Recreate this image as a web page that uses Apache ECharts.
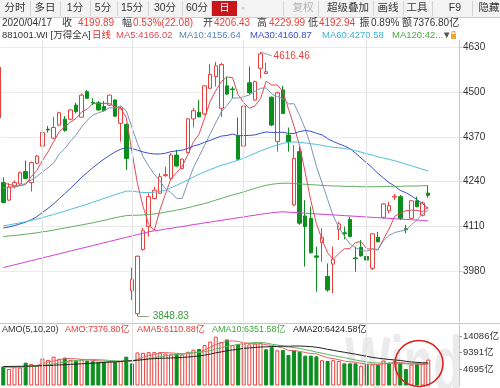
<!DOCTYPE html>
<html><head><meta charset="utf-8">
<script src="https://cdn.jsdelivr.net/npm/echarts@6/dist/echarts.min.js"></script>
<style>html,body{margin:0;padding:0;background:#fff}#c{width:500px;height:388px}</style>
</head><body><div id="c"></div>
<script>
const dates = ['2019-12-23','2019-12-24','2019-12-25','2019-12-26','2019-12-27','2019-12-30','2019-12-31',
'2020-01-02','2020-01-03','2020-01-06','2020-01-07','2020-01-08','2020-01-09','2020-01-10','2020-01-13','2020-01-14','2020-01-15','2020-01-16','2020-01-17','2020-01-20','2020-01-21','2020-01-22','2020-01-23',
'2020-02-03','2020-02-04','2020-02-05','2020-02-06','2020-02-07','2020-02-10','2020-02-11','2020-02-12','2020-02-13','2020-02-14','2020-02-17','2020-02-18','2020-02-19','2020-02-20','2020-02-21','2020-02-24','2020-02-25','2020-02-26','2020-02-27','2020-02-28',
'2020-03-02','2020-03-03','2020-03-04','2020-03-05','2020-03-06','2020-03-09','2020-03-10','2020-03-11','2020-03-12','2020-03-13','2020-03-16','2020-03-17','2020-03-18','2020-03-19','2020-03-20','2020-03-23','2020-03-24','2020-03-25','2020-03-26','2020-03-27','2020-03-30','2020-03-31',
'2020-04-01','2020-04-02','2020-04-03','2020-04-07','2020-04-08','2020-04-09','2020-04-10','2020-04-13','2020-04-14','2020-04-15','2020-04-16','2020-04-17'];
const padCats = ['+1','+2','+3','+4','+5'];
const monthStarts = ['2020-01-02','2020-02-03','2020-03-02','2020-04-01'];

const opens = [4237,4186,4225,4233,4269,4237,4293,4343,4392,4366,
 4404,4421,4421,4462,4427,4501,4470,4469,4458,4462,
 4477,4409,4406,3923,3856,4043,4109,4191,4206,4257,
 4249,4317,4278,4324,4422,4441,4436,4511,4545,4453,
 4518,4509,4373,4343,4527,4477,4569,4554,4485,4356,
 4506,4375,4172,4327,4140,4133,4024,4063,3964,4000,
 4101,4091,4130,4018,4049,4022,3988,4078,4136,4155,
 4195,4196,4103,4133,4184,4142,4206.43];
const closes = [4179,4225,4237,4266,4249,4295,4314,4382,4390,4397,
 4440,4388,4448,4443,4491,4482,4468,4448,4446,4491,
 4430,4453,4307,3956,4023,4097,4196,4215,4254,4260,
 4317,4285,4305,4422,4446,4428,4518,4551,4576,4580,
 4494,4507,4305,4459,4498,4530,4611,4559,4404,4498,
 4438,4356,4307,4119,4109,4033,4020,4078,3925,4014,
 4117,4089,4080,4016,4024,4012,4088,4065,4175,4170,
 4197,4133,4100,4184,4167,4177.81,4199.89];
const lows = [4177,4184,4220,4230,4247,4211,4290,4341,4382,4363,
 4401,4385,4418,4438,4427,4480,4462,4446,4443,4459,
 4428,4356,4274,3896,3848.83,4039,4080,4188,4204,4254,
 4246,4283,4275,4322,4397,4426,4433,4508,4516,4427,
 4491,4482,4303,4341,4494,4475,4540,4554,4401,4327,
 4436,4327,4169,4114,3993,4031,3920,4007,3920,3915,
 4070,4072,4078,3978,4022,4007,3983,4063,4133,4148,
 4186,4128,4090,4131,4165,4139,4192.94];
const highs = [4252,4235,4243,4269,4301,4298,4317,4390,4401,4428,
 4443,4430,4450,4469,4496,4506,4482,4474,4474,4492,
 4479,4458,4409,3990,4025,4105,4206,4225,4264,4283,
 4322,4332,4307,4424,4453,4477,4520,4581,4588,4585,
 4545,4516,4426,4462,4574,4533,4616.46,4585,4487,4501,
 4518,4397,4346,4341,4186,4167,4051,4104,4002,4051,
 4123,4109,4138,4051,4070,4065,4090,4094,4177,4181,
 4204,4201,4114,4186,4196,4182,4229.99];

const ma5 = [4236,4232,4228,4228,4231.2,4254.4,4272.2,4301.2,4326.0,4355.6,
 4384.6,4399.4,4412.6,4423.2,4442.0,4450.4,4466.4,4466.4,4467.0,4467.0,
 4456.6,4453.6,4425.4,4327.4,4233.8,4167.2,4115.8,4097.4,4157.0,4204.4,
 4248.4,4266.2,4284.2,4317.8,4355.0,4377.2,4423.8,4473.0,4503.8,4530.6,
 4543.8,4541.6,4492.4,4469.0,4452.6,4459.8,4480.6,4531.4,4520.4,4520.4,
 4502.0,4451.0,4400.6,4343.6,4265.8,4184.8,4117.6,4071.8,4033.0,4014.0,
 4030.8,4044.6,4045.0,4063.2,4065.2,4044.2,4044.0,4041.0,4072.8,4102.0,
 4139.0,4148.0,4155.0,4156.8,4156.2,4152.4,4166.02];
const ma10 = [4222,4222,4224,4228,4235,4244,4255,4268,4280,4293.4,
 4319.5,4335.8,4356.9,4374.6,4398.8,4417.5,4432.9,4439.5,4445.1,4454.5,
 4453.5,4460.0,4445.9,4397.2,4350.4,4311.9,4284.7,4261.4,4242.2,4219.1,
 4207.8,4191.0,4190.8,4237.4,4279.7,4312.8,4345.0,4378.6,4410.8,4442.8,
 4460.5,4482.7,4482.7,4486.4,4491.6,4501.8,4511.1,4511.9,4494.7,4486.5,
 4480.9,4465.8,4466.0,4432.0,4393.1,4343.4,4284.3,4236.2,4188.3,4139.9,
 4107.8,4081.1,4058.4,4048.1,4039.6,4037.5,4044.3,4043.0,4068.0,4083.6,
 4091.6,4096.0,4098.0,4114.8,4129.1,4145.7,4156.64];
const ma30 = [4105,4108,4112,4117,4122,4129,4138,4150,4162,4175,
 4190,4205,4220,4236,4252,4266,4280,4293,4305,4316,
 4326,4334,4339,4336,4331,4326,4322,4320,4320,4322.3,
 4326.9,4328.9,4331.2,4336.4,4343.0,4347.4,4354.2,4359.8,4366.0,4372.1,
 4373.9,4377.9,4373.1,4373.7,4373.9,4375.5,4380.3,4384.0,4382.6,4382.8,
 4383.1,4379.8,4379.8,4385.3,4388.1,4386.0,4380.1,4375.6,4364.6,4356.4,
 4349.7,4343.2,4335.7,4322.2,4308.1,4294.2,4279.9,4263.7,4250.3,4236.7,
 4226.8,4214.3,4207.5,4198.3,4187.3,4175.5,4160.87];
const ma60 = [4111,4114,4117,4120,4123,4127,4131,4135,4140,4144,
 4149,4154,4159,4164,4169,4174,4180,4185,4191,4196,
 4202,4207,4212,4212,4210,4208,4208,4209,4211,4215,
 4222,4229,4237,4245,4253,4261,4268,4275,4281,4287,
 4292,4297,4302,4308,4315,4322,4329,4335,4341,4346,
 4351,4354,4355,4354,4352,4350,4348,4345,4342,4339.4,
 4338.3,4336.1,4333.5,4329.3,4325.5,4320.8,4317.1,4311.8,4308.2,4304.4,
 4300.4,4296.1,4290.3,4286.0,4280.6,4275.5,4270.58];
const ma120 = [4080,4082,4083,4085,4087,4089,4091,4094,4096,4099,
 4102,4105,4108,4111,4114,4117,4120,4124,4127,4131,
 4135,4138,4141,4142,4142,4143,4144,4146,4148,4151,
 4154,4157,4160,4164,4168,4172,4176,4181,4186,4191,
 4196,4201,4205,4210,4215,4220,4225,4229,4232,4234,
 4235,4235,4234,4233,4232,4231,4230,4229,4228,4227,
 4227,4226,4226,4226,4225,4225,4225,4225,4226,4226,
 4226,4226,4227,4227,4227,4228,4228];
const ma250 = [3990,3994,3998,4002,4006,4010,4014,4018,4022,4026,
 4030,4034,4038,4042,4046,4050,4054,4058,4062,4066,
 4070,4074,4078,4082,4086,4090,4094,4097,4099,4102,
 4104,4107,4109,4112,4115,4117,4120,4122,4125,4127,
 4130,4132,4135,4137,4140,4142,4145,4147,4149,4151,
 4152,4151,4150,4149,4148,4147,4146,4145,4144,4143,
 4142,4141,4140,4139,4138,4137,4136,4135,4134,4133,
 4132,4131,4130,4129,4128,4127,4125];

const amounts = [5400,4700,5200,5100,6500,6100,5600,7700,7300,8200,
 7600,7900,7300,7000,7400,7100,6900,6700,6600,6800,
 6700,7000,8200,6300,9400,9300,9500,9500,9300,9100,
 8900,9000,8800,9600,10200,10400,11500,12500,13900,12400,
 13100,11500,11800,11900,11700,12000,12100,10300,10900,10000,
 10100,8700,10100,9600,8500,8500,8300,7200,7000,7200,
 7000,6300,6300,6300,5600,6100,6000,5900,7100,6500,
 7000,6400,4700,6000,6300,6200,7376.8];
const ama5 = [5300,5250,5200,5250,5380,5520,5700,6200,6640,6980,
 7280,7740,7660,7600,7440,7340,7140,7020,6940,6820,
 6740,6760,7060,7000,7520,8040,8540,8800,9400,9340,
 9260,9160,9020,9080,9300,9600,10100,10840,11700,12140,
 12680,12680,12540,12140,12000,11780,11900,11600,11400,11060,
 10680,10000,9960,9700,9400,9080,9000,8420,7900,7640,
 7340,6940,6760,6620,6300,6120,6060,5980,6140,6320,
 6500,6580,6340,6120,6080,5920,6110.88];
const ama10 = [5300,5300,5300,5300,5350,5400,5500,5700,5900,6180,
 6400,6720,6930,7120,7210,7310,7440,7340,7270,7130,
 7040,6950,7040,6970,7170,7390,7650,7930,8200,8430,
 8650,8850,8910,9240,9320,9430,9630,9930,10390,10720,
 11140,11390,11690,11920,12070,12230,12290,12070,11770,11530,
 11230,10950,10780,10550,10230,9880,9500,9190,8800,8520,
 8210,7970,7590,7260,6970,6730,6500,6370,6380,6310,
 6310,6320,6160,6130,6200,6210,6351.58];
const ama20 = [5400,5420,5440,5460,5500,5540,5580,5640,5700,5770,
 5850,5930,6010,6090,6170,6250,6350,6450,6560,6655,
 6720,6835,6985,7045,7190,7350,7545,7635,7735,7780,
 7845,7900,7975,8105,8245,8410,8640,8930,9295,9575,
 9895,10120,10300,10580,10695,10830,10960,11000,11080,11125,
 11185,11170,11235,11235,11150,11055,10895,10630,10285,10025,
 9720,9460,9185,8905,8600,8305,8000,7780,7590,7415,
 7260,7145,6875,6695,6585,6470,6424.58];

const priceTicks = [3980,4110,4240,4370,4500,4630];
const amountTicks = [4695,9391,14086];

const FONT = '"Liberation Sans","Noto Sans CJK SC",sans-serif';
const RED = '#e8403c', GREEN = '#0d8f1e';
const C_MA5 = '#e04a58', C_MA10 = '#7d95b3', C_MA30 = '#3b4ecf', C_MA60 = '#52bfdc', C_MA120 = '#63ad63', C_MA250 = '#d23fd2';

const cats = dates.concat(padCats);
const kdata = dates.map((d, i) => [opens[i], closes[i], lows[i], highs[i]]);
const volData = amounts.map((v, i) => {
  const up = i === 0 ? closes[i] >= opens[i] : closes[i] >= closes[i - 1];
  return { value: v, itemStyle: up ? { color: '#fff', borderColor: RED, borderWidth: 1 } : { color: GREEN, borderColor: GREEN, borderWidth: 1 } };
});

const monthLines = {
  silent: true, animation: false, symbol: ['none', 'none'],
  label: { show: false },
  lineStyle: { color: '#e2e2e2', type: 'solid', width: 1 },
  data: monthStarts.map(d => ({ xAxis: d }))
};
const priceMarks = JSON.parse(JSON.stringify(monthLines));
priceMarks.data.push([
  { coord: [dates[46], 4616.46], lineStyle: { color: '#7aa7b8', width: 1, type: 'solid' },
    label: { show: true, position: 'end', formatter: '4616.46', color: RED, fontSize: 10, fontFamily: FONT, distance: 2 } },
  { coord: [dates[48], 4605] }
]);
priceMarks.data.push([
  { coord: [dates[24], 3848.83], lineStyle: { color: '#8aa88a', width: 1, type: 'solid' },
    label: { show: true, position: 'end', formatter: '3848.83', color: '#3a9a3a', fontSize: 10, fontFamily: FONT, distance: 4 } },
  { coord: [dates[26], 3848.83] }
]);

function lineSeries(name, data, color, xi, yi) {
  return { name, type: 'line', data, xAxisIndex: xi, yAxisIndex: yi, symbol: 'none', showSymbol: false,
    smooth: false, silent: true, animation: false, z: 3, lineStyle: { width: 1, color } };
}

function txt(t, x, y, color, size, align, extra) {
  return Object.assign({ type: 'text', x, y, silent: true, z: 100,
    style: { text: t, fill: color, fontSize: size, fontFamily: FONT, align: align || 'left', verticalAlign: 'middle',
      textAlign: align || 'left', textVerticalAlign: 'middle' } }, extra || {});
}
function hline(x1, x2, y, color, z) {
  return { type: 'line', silent: true, z: z || 95, shape: { x1, y1: y, x2, y2: y }, style: { stroke: color, lineWidth: 1 } };
}
function vline(x, y1, y2, color, z) {
  return { type: 'line', silent: true, z: z || 95, shape: { x1: x, y1, x2: x, y2 }, style: { stroke: color, lineWidth: 1 } };
}

const tabsLeft = [['分时', 15], ['多日', 45], ['1分', 75], ['5分', 103], ['15分', 132], ['30分', 165], ['60分', 197]];
const tabsRight = [['超级叠加', 348], ['画线', 388], ['工具', 417], ['F9', 455], ['隐藏', 489]];
const tabSeps = [30.5, 60.5, 90.5, 117.5, 148.5, 182.5, 211.5, 283.5, 318.5, 373.5, 403.5, 432.5, 472.5];

const graphics = [];
graphics.push({ type: 'rect', silent: true, z: 90, shape: { x: 0, y: 0, width: 500, height: 17 }, style: { fill: '#f3f3f3' } });
graphics.push(hline(0, 500, 17.5, '#cfcfcf'));
tabSeps.forEach(x => graphics.push(vline(x, 1, 16, '#d4d4d4')));
tabsLeft.forEach(([t, x]) => graphics.push(txt(t, x, 8.5, '#333', 10.5, 'center')));
graphics.push({ type: 'rect', silent: true, z: 96, shape: { x: 212, y: 1, width: 25, height: 15 }, style: { fill: '#c9161c' } });
graphics.push(txt('日', 224.5, 8.5, '#fff', 10.5, 'center'));
graphics.push(txt('▪', 243, 8.5, '#c8d0dc', 9, 'center'));
graphics.push(txt('复权', 303, 8.5, '#b0b0b0', 10.5, 'center'));
tabsRight.forEach(([t, x]) => graphics.push(txt(t, x, 8.5, '#333', 10.5, 'center')));

// row 2
[['2020/04/17', 2, '#333'], ['收', 62, '#333'], ['4199.89', 78, RED], ['幅', 122, '#333'], ['0.53%(22.08)', 133, RED],
 ['开', 203, '#333'], ['4206.43', 214, RED], ['高', 257, '#333'], ['4229.99', 269, RED], ['低', 308, '#333'],
 ['4192.94', 319, RED], ['振', 359.5, '#333'], ['0.89%', 371, '#333'], ['额', 402, '#333'], ['7376.80亿', 413, '#333']]
 .forEach(([t, x, c]) => graphics.push(txt(t, x, 23.5, c, 10)));
// row 3
[['881001.WI [万得全A]', 2, '#333'], ['日线', 92, '#e0302a'], ['MA5:4166.02', 116, C_MA5], ['MA10:4156.64', 179, '#5a86b8'],
 ['MA30:4160.87', 250, C_MA30], ['MA60:4270.58', 322, '#40b2d6'], ['MA120:42...', 392, '#4aa84a'], ['▼', 442, '#555']]
 .forEach(([t, x, c]) => graphics.push(txt(t, x, 35.5, c, 9.5)));
graphics.push({ type: 'rect', silent: true, z: 100, shape: { x: 451, y: 34, width: 5, height: 5 }, style: { fill: '#f0a830' } });
graphics.push({ type: 'rect', silent: true, z: 100, shape: { x: 452, y: 31.5, width: 3, height: 3 }, style: { fill: 'none', stroke: '#f0a830', lineWidth: 1 } });
// volume legend
[['AMO(5,10,20)', 2, '#333'], ['AMO:7376.80亿', 65, RED], ['AMA5:6110.88亿', 137, RED], ['AMA10:6351.58亿', 212, '#3fa63f'], ['AMA20:6424.58亿', 293, '#222']]
 .forEach(([t, x, c]) => graphics.push(txt(t, x, 330, c, 9)));
// separators
graphics.push(hline(0, 500, 323.5, '#c8c8c8', 50));
graphics.push(vline(0.5, 67, 118, RED, 50));
// watermark
graphics.push({ type: 'text', silent: true, z: 0, x: 345, y: 330, scaleX: 0.62,
  style: { text: 'Wind', fill: '#ebebeb', fontSize: 78, fontWeight: 'bold', fontFamily: FONT, align: 'left', verticalAlign: 'top', textAlign: 'left', textVerticalAlign: 'top' } });
// annotation ellipse
graphics.push({ type: 'ellipse', silent: true, z: 120, shape: { cx: 419, cy: 363.5, rx: 24, ry: 23 }, style: { fill: 'none', stroke: '#dd1f1f', lineWidth: 1.6 } });

const option = {
  animation: false,
  backgroundColor: '#fff',
  textStyle: { fontFamily: FONT },
  grid: [
    { left: 0.5, right: 41, top: 40, bottom: 66, outerBoundsMode: 'none', containLabel: false },
    { left: 0.5, right: 41, top: 323, bottom: 2.5, outerBoundsMode: 'none', containLabel: false }
  ],
  xAxis: [
    { type: 'category', gridIndex: 0, data: cats, boundaryGap: true, axisLine: { show: false }, axisTick: { show: false }, axisLabel: { show: false }, splitLine: { show: false } },
    { type: 'category', gridIndex: 1, data: cats, boundaryGap: true, axisLine: { show: false }, axisTick: { show: false }, axisLabel: { show: false }, splitLine: { show: false } }
  ],
  yAxis: [
    { type: 'value', gridIndex: 0, position: 'right', min: 3831.9, max: 4651.2, scale: true,
      axisLine: { show: true, lineStyle: { color: '#c8c8c8' } },
      axisTick: { show: true, length: 3, customValues: priceTicks, lineStyle: { color: '#c8c8c8' } },
      axisLabel: { show: true, customValues: priceTicks, color: '#333', fontSize: 10, margin: 4, fontFamily: FONT, formatter: v => String(v) },
      splitLine: { show: true, lineStyle: { color: '#ebebeb', width: 1 } } },
    { type: 'value', gridIndex: 1, position: 'right', min: 0, max: 17786,
      axisLine: { show: true, lineStyle: { color: '#c8c8c8' } },
      axisTick: { show: true, length: 3, customValues: amountTicks, lineStyle: { color: '#999' } },
      axisLabel: { show: true, customValues: amountTicks, color: '#333', fontSize: 9.5, margin: 4, fontFamily: FONT, formatter: v => String(v) + '亿' },
      splitLine: { show: false } }
  ],
  series: [
    { name: 'K', type: 'candlestick', xAxisIndex: 0, yAxisIndex: 0, data: kdata, barWidth: 4, silent: true, z: 2,
      itemStyle: { color: '#fff', color0: GREEN, borderColor: RED, borderColor0: GREEN, borderWidth: 1 },
      markLine: priceMarks },
    lineSeries('MA5', ma5, C_MA5, 0, 0),
    lineSeries('MA10', ma10, C_MA10, 0, 0),
    lineSeries('MA30', ma30, C_MA30, 0, 0),
    lineSeries('MA60', ma60, C_MA60, 0, 0),
    lineSeries('MA120', ma120, C_MA120, 0, 0),
    lineSeries('MA250', ma250, C_MA250, 0, 0),
    { name: 'AMO', type: 'bar', xAxisIndex: 1, yAxisIndex: 1, data: volData, barWidth: 4, silent: true, z: 2, markLine: monthLines },
    lineSeries('AMA5', ama5, '#e8606a', 1, 1),
    lineSeries('AMA10', ama10, '#5cb85c', 1, 1),
    lineSeries('AMA20', ama20, '#222', 1, 1)
  ],
  graphic: { elements: graphics }
};
const chart = echarts.init(document.getElementById('c'), null, { renderer: 'canvas', width: 500, height: 388 });
chart.setOption(option);
</script>
</body></html>
